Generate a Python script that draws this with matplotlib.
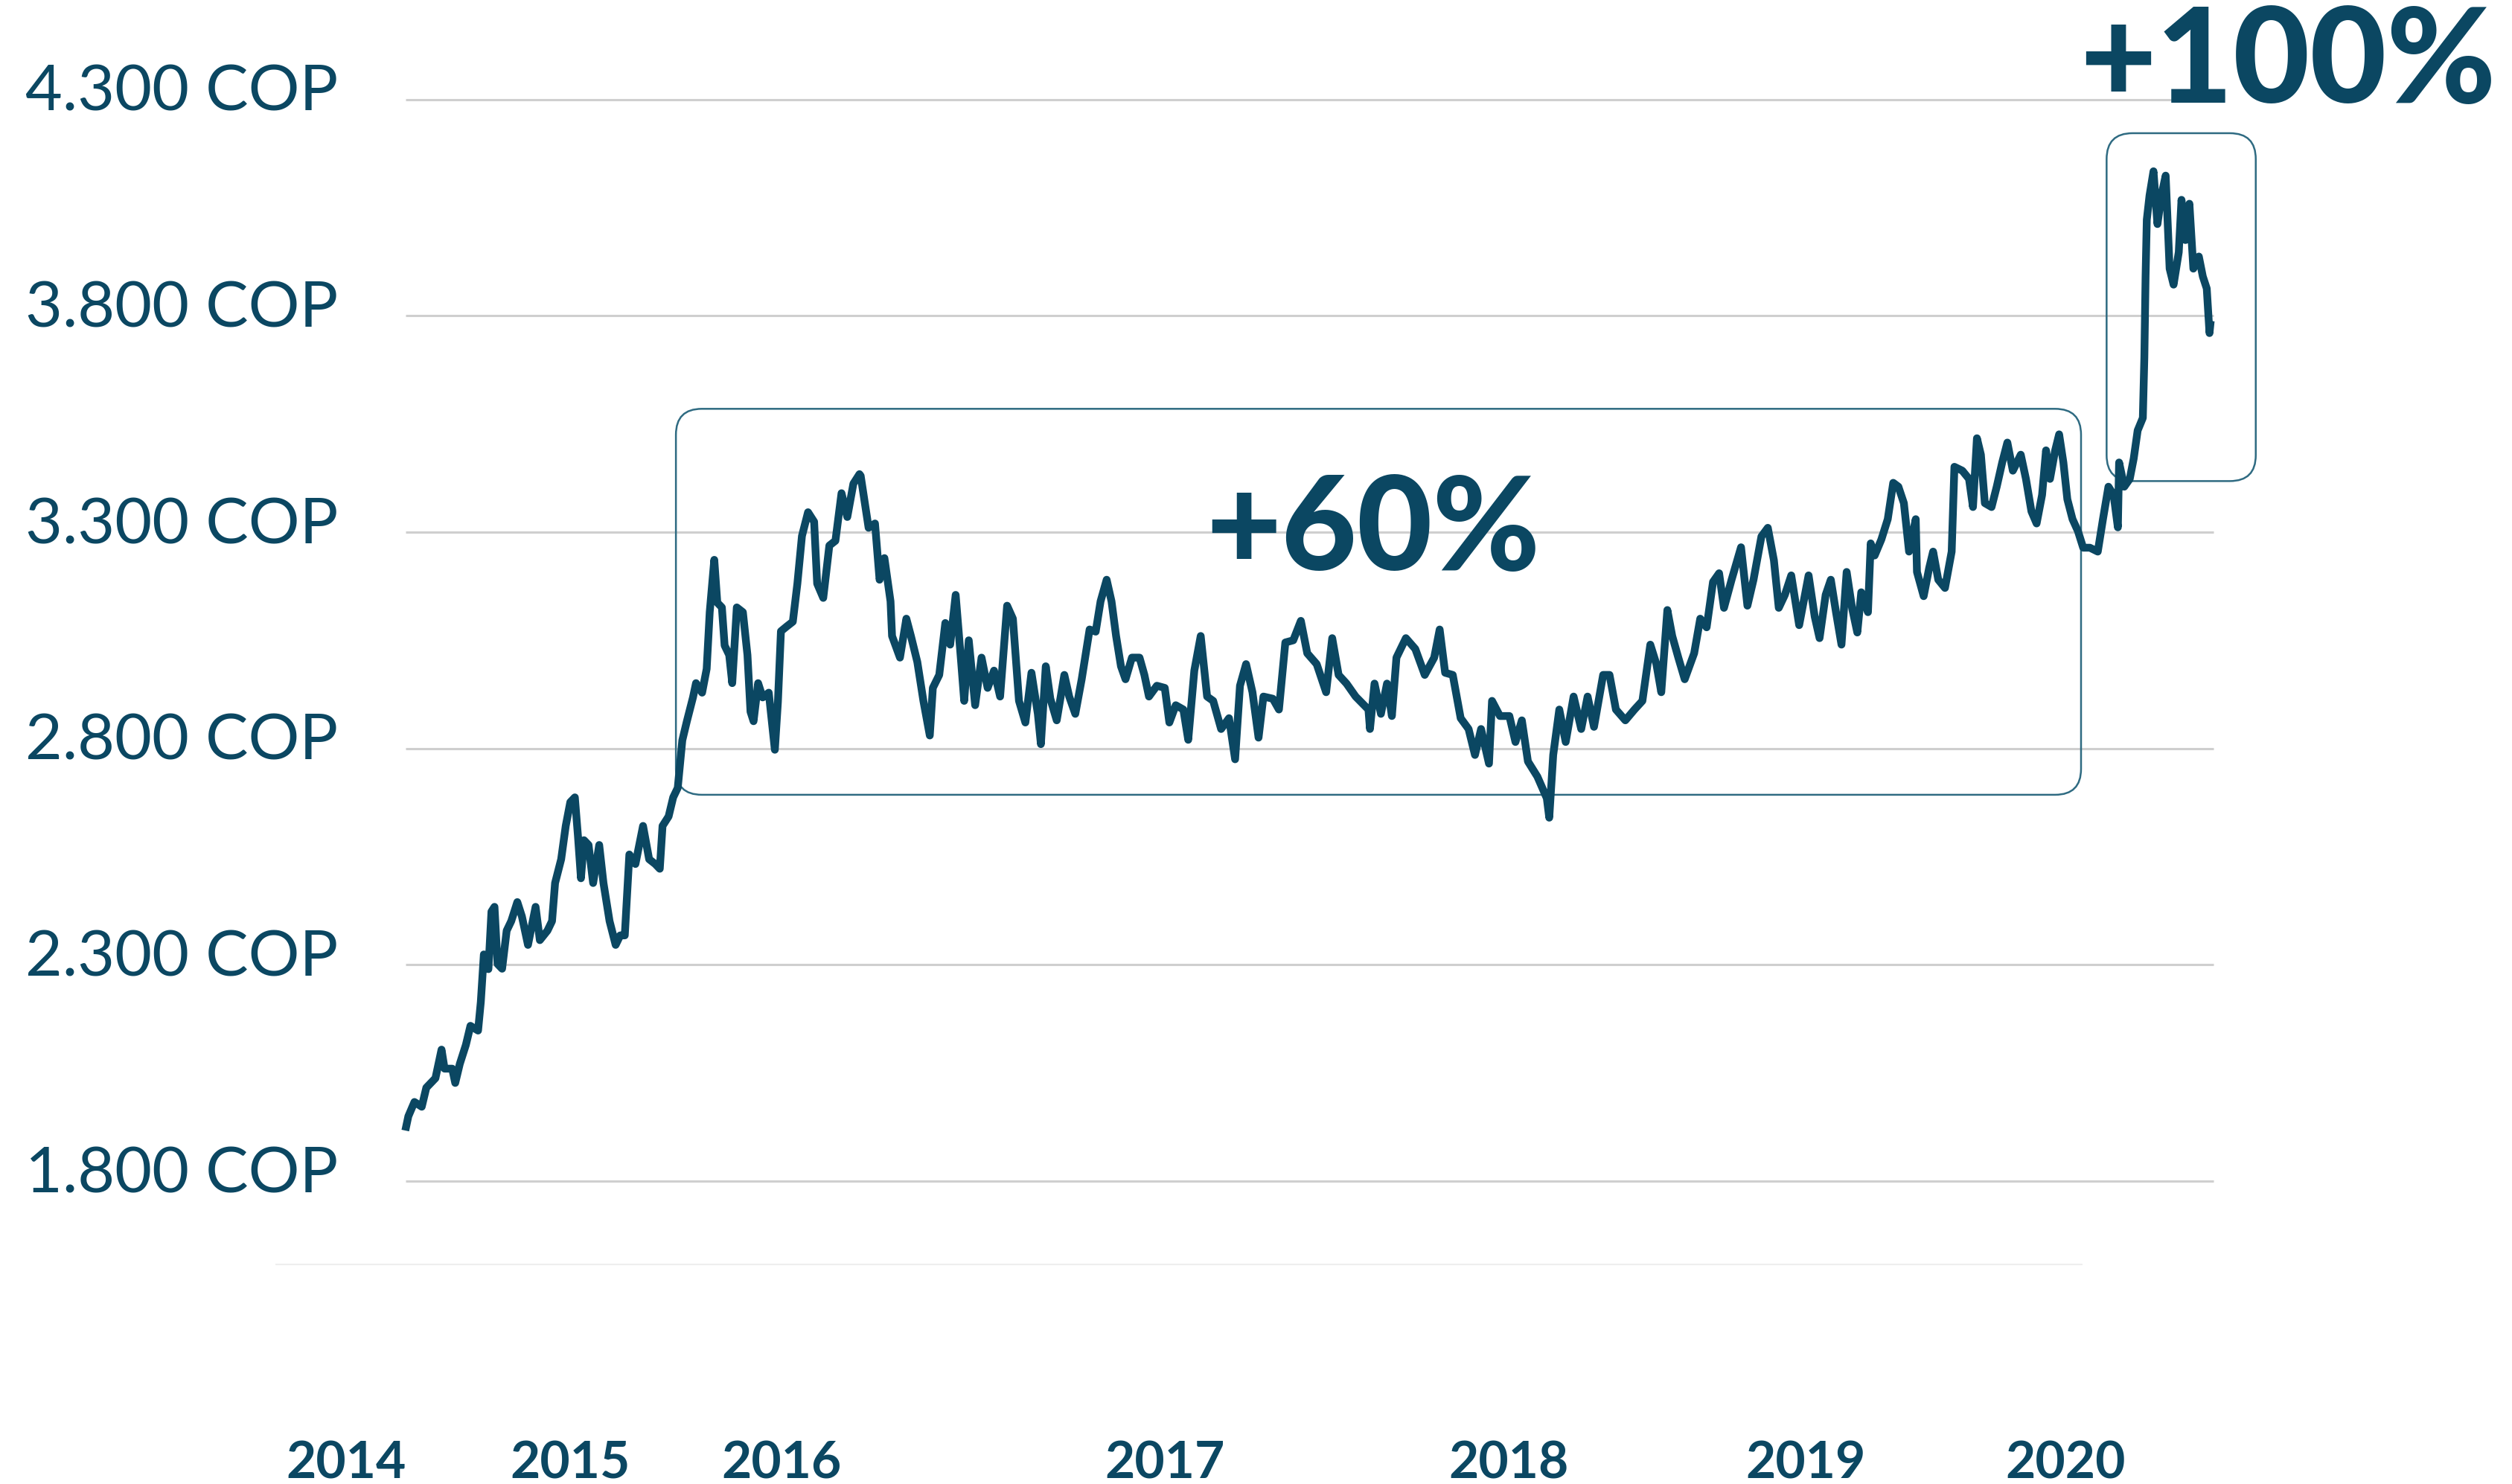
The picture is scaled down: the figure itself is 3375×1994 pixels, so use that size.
import matplotlib
matplotlib.use("Agg")
from matplotlib import pyplot as plt
from matplotlib import transforms
from matplotlib.patches import FancyBboxPatch

# USD/COP exchange rate (decimal year, pesos)
years = [
    2014.500, 2014.510, 2014.530, 2014.554, 2014.569, 2014.599, 2014.619, 2014.629,
    2014.654, 2014.664, 2014.679, 2014.699, 2014.714, 2014.739, 2014.748, 2014.758,
    2014.773, 2014.783, 2014.793, 2014.803, 2014.818, 2014.833, 2014.848, 2014.868,
    2014.883, 2014.903, 2014.928, 2014.942, 2014.967, 2014.982, 2014.992, 2015.012,
    2015.027, 2015.042, 2015.057, 2015.067, 2015.077, 2015.087, 2015.102, 2015.117,
    2015.137, 2015.151, 2015.171, 2015.191, 2015.206, 2015.221, 2015.236, 2015.256,
    2015.281, 2015.301, 2015.321, 2015.336, 2015.345, 2015.365, 2015.380, 2015.395,
    2015.410, 2015.425, 2015.445, 2015.455, 2015.475, 2015.490, 2015.500, 2015.515,
    2015.525, 2015.540, 2015.549, 2015.564, 2015.574, 2015.589, 2015.609, 2015.624,
    2015.634, 2015.644, 2015.659, 2015.674, 2015.694, 2015.714, 2015.724, 2015.734,
    2015.753, 2015.773, 2015.788, 2015.803, 2015.823, 2015.843, 2015.853, 2015.873,
    2015.893, 2015.913, 2015.933, 2015.952, 2015.972, 2015.992, 2015.996,
    2016.022, 2016.043, 2016.058, 2016.074, 2016.094, 2016.099, 2016.125, 2016.146,
    2016.161, 2016.182, 2016.202, 2016.223, 2016.233, 2016.254, 2016.274, 2016.290,
    2016.308, 2016.326, 2016.336, 2016.351, 2016.372, 2016.393, 2016.413, 2016.434,
    2016.454, 2016.477, 2016.496, 2016.516, 2016.537, 2016.557, 2016.578, 2016.588,
    2016.604, 2016.619, 2016.640, 2016.665, 2016.681, 2016.701, 2016.722, 2016.748,
    2016.768, 2016.784, 2016.804, 2016.820, 2016.835, 2016.851, 2016.866, 2016.887,
    2016.912, 2016.928, 2016.943, 2016.969, 2016.995, 2017.010, 2017.031, 2017.056,
    2017.072, 2017.092, 2017.113, 2017.134, 2017.154, 2017.180, 2017.206, 2017.226,
    2017.242, 2017.262, 2017.283, 2017.303, 2017.319, 2017.350, 2017.370, 2017.391,
    2017.417, 2017.442, 2017.463, 2017.494, 2017.525, 2017.545, 2017.566,
    2017.592, 2017.622, 2017.664, 2017.669, 2017.684, 2017.705, 2017.725, 2017.741,
    2017.756, 2017.787, 2017.818, 2017.849, 2017.880, 2017.898, 2017.916, 2017.941,
    2017.967, 2017.993, 2018.014, 2018.034, 2018.060, 2018.070, 2018.096, 2018.127,
    2018.147, 2018.168, 2018.188, 2018.219, 2018.250, 2018.258, 2018.271, 2018.291,
    2018.312, 2018.338, 2018.363, 2018.384, 2018.405, 2018.435, 2018.456, 2018.477,
    2018.508, 2018.538, 2018.564, 2018.590, 2018.610, 2018.626, 2018.646, 2018.662,
    2018.682, 2018.703, 2018.734, 2018.754, 2018.775, 2018.796, 2018.816, 2018.832,
    2018.857, 2018.888, 2018.909, 2018.929, 2018.955, 2018.976, 2018.996, 2019.012,
    2019.032, 2019.053, 2019.079, 2019.110, 2019.130, 2019.146, 2019.166,
    2019.183, 2019.200, 2019.218, 2019.235, 2019.253, 2019.270, 2019.283, 2019.305,
    2019.314, 2019.327, 2019.349, 2019.370, 2019.388, 2019.405, 2019.423, 2019.440,
    2019.462, 2019.466, 2019.488, 2019.506, 2019.519, 2019.536, 2019.558, 2019.580,
    2019.589, 2019.615, 2019.637, 2019.650, 2019.663, 2019.676, 2019.689, 2019.711,
    2019.728, 2019.746, 2019.763, 2019.781, 2019.807, 2019.824, 2019.842, 2019.859,
    2019.877, 2019.890, 2019.903, 2019.920, 2019.933, 2019.947, 2019.960, 2019.977,
    2019.995, 2020.012, 2020.034, 2020.060, 2020.077, 2020.095, 2020.112, 2020.126,
    2020.130, 2020.147, 2020.165, 2020.178, 2020.191, 2020.208, 2020.213, 2020.217,
    2020.221, 2020.230, 2020.243, 2020.256, 2020.269, 2020.283, 2020.296, 2020.309,
    2020.326, 2020.335, 2020.348, 2020.361, 2020.374, 2020.392, 2020.405, 2020.418,
    2020.427, 2020.431,
]
rates = [
    1917, 1950, 1983, 1972, 2016, 2038, 2104, 2060,
    2060, 2027, 2071, 2115, 2159, 2148, 2214, 2324,
    2290, 2423, 2434, 2302, 2291, 2379, 2401, 2445,
    2412, 2346, 2434, 2357, 2379, 2401, 2489, 2544,
    2621, 2676, 2687, 2599, 2500, 2588, 2577, 2489,
    2577, 2489, 2401, 2346, 2368, 2368, 2555, 2533,
    2621, 2544, 2533, 2522, 2621, 2643, 2687, 2709,
    2819, 2863, 2918, 2951, 2929, 2984, 3115, 3236,
    3137, 3126, 3038, 3016, 2951, 3126, 3115, 3016,
    2885, 2863, 2951, 2918, 2929, 2797, 2907, 3071,
    3082, 3093, 3181, 3291, 3346, 3324, 3181, 3148,
    3269, 3280, 3390, 3335, 3412, 3434, 3430,
    3310, 3320, 3190, 3240, 3140, 3060, 3010, 3100,
    3060, 3000, 2910, 2830, 2940, 2970, 3090, 3040,
    3155, 3000, 2910, 3050, 2900, 3010, 2940, 2980,
    2920, 3130, 3100, 2910, 2860, 2975, 2880, 2810,
    2990, 2915, 2865, 2970, 2920, 2880, 2960, 3075,
    3070, 3140, 3190, 3140, 3060, 2990, 2960, 3010,
    3010, 2970, 2920, 2945, 2940, 2860, 2900, 2890,
    2820, 2980, 3060, 2920, 2910, 2845, 2870, 2775,
    2945, 2995, 2930, 2825, 2920, 2915, 2890, 3045,
    3050, 3095, 3020, 2995, 2930, 3055, 2970,
    2950, 2920, 2890, 2845, 2950, 2880, 2950, 2875,
    3010, 3055, 3030, 2970, 3010, 3075, 2975, 2970,
    2870, 2845, 2785, 2845, 2765, 2910, 2875, 2875,
    2815, 2865, 2770, 2735, 2685, 2640, 2785, 2890,
    2815, 2920, 2845, 2920, 2850, 2970, 2970, 2890,
    2865, 2890, 2910, 3040, 2995, 2930, 3120, 3060,
    3010, 2960, 3020, 3100, 3080, 3185, 3205, 3125,
    3190, 3265, 3130, 3190, 3290, 3310, 3235, 3125,
    3155, 3200, 3085, 3200, 3105, 3055, 3155,
    3190, 3115, 3040, 3208, 3124, 3068, 3161, 3115,
    3274, 3246, 3283, 3330, 3414, 3405, 3367, 3255,
    3330, 3208, 3152, 3217, 3255, 3190, 3171, 3255,
    3451, 3442, 3423, 3358, 3517, 3479, 3367, 3358,
    3405, 3461, 3507, 3442, 3479, 3423, 3348, 3320,
    3386, 3489, 3423, 3489, 3526, 3461, 3376, 3330,
    3302, 3264, 3264, 3255, 3330, 3405, 3386, 3311,
    3461, 3405, 3423, 3470, 3535, 3564, 3704, 3891,
    4022, 4078, 4134, 4012, 4078, 4124, 3909, 3872,
    3947, 4068, 3975, 4059, 3909, 3937, 3891, 3863,
    3760, 3788,
]

grid_values = [1800, 2300, 2800, 3300, 3800, 4300]
grid_labels = ["1.800 COP", "2.300 COP", "2.800 COP", "3.300 COP", "3.800 COP", "4.300 COP"]
year_ticks = [2014.305, 2015.042, 2015.737, 2016.995, 2018.126, 2019.100, 2019.953]
year_labels = ["2014", "2015", "2016", "2017", "2018", "2019", "2020"]

# highlighted ranges: (x0, x1, y0, y1)
box_60 = (2015.389, 2020.005, 2693, 3585)
box_100 = (2020.089, 2020.579, 3418, 4222)

teal = "#0b4762"
plt.rcParams['font.family'] = ['Lato', 'DejaVu Sans']

fig = plt.figure(figsize=(33.75, 19.94), dpi=100)
ax = fig.add_axes([0.0947, 0.1166, 0.8119, 0.8747])
ax.set_xlim(2013.95, 2020.65)
ax.set_ylim(1500, 4500)

# light grid
ax.hlines(grid_values, 2014.5, 2020.44, color="#cfcfcf", lw=2.2, zorder=1)
ax.hlines([1607], 2014.074, 2020.01, color="#eeeeee", lw=1.5, zorder=1)

ax.plot(years, rates, color=teal, lw=7.5, solid_joinstyle="round",
        solid_capstyle="butt", zorder=3)

# rounded boxes (aspect corrected so the corners look round)
aspect = (1 / 0.27) / (1 / 190.0)
for x0, x1, y0, y1 in [box_60, box_100]:
    patch = FancyBboxPatch((x0, y0), x1 - x0, y1 - y0,
                           boxstyle="round,pad=0,rounding_size=0.085",
                           mutation_aspect=aspect, fill=False,
                           edgecolor="#2f6b82", lw=1.8, zorder=2)
    ax.add_patch(patch)

ax.text(2017.679, 3300, "+60%", color=teal, fontsize=126, fontweight="black",
        ha="center", va="center", zorder=4)
ax.text(2020.684, 4381, "+100%", color=teal, fontsize=128, fontweight="black",
        ha="center", va="center", zorder=4)

# y labels, left aligned at the figure edge
trans = transforms.blended_transform_factory(fig.transFigure, ax.transData)
trans = trans + transforms.ScaledTranslation(0, 0.09, fig.dpi_scale_trans)
for v, lab in zip(grid_values, grid_labels):
    ax.text(0.010, v, lab, transform=trans, color=teal, fontsize=62,
            fontweight="normal", ha="left", va="center")

ax.set_yticks([])
ax.set_xticks(year_ticks)
ax.set_xticklabels(year_labels, fontsize=50, fontweight="bold", color=teal)
ax.tick_params(axis="x", length=0, pad=125)
for s in ax.spines.values():
    s.set_visible(False)

fig.savefig("out.png", dpi=100, facecolor="white")
